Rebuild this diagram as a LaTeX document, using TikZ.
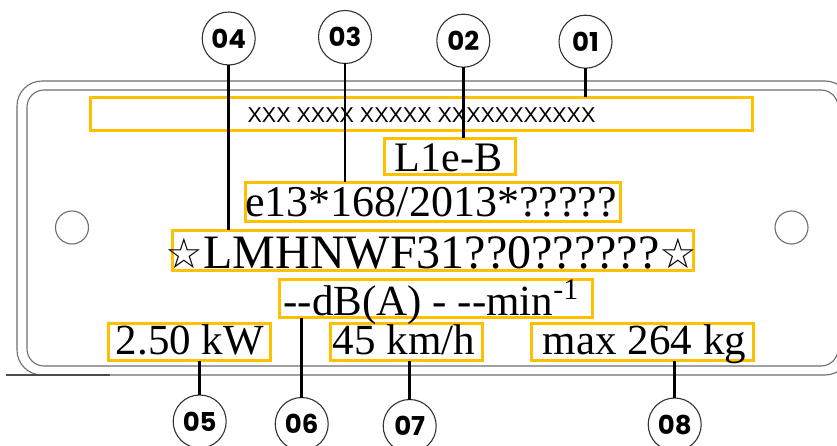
\documentclass[tikz,border=0pt]{standalone}
\usepackage{fontspec}
\setmainfont{Liberation Serif}
\newfontfamily\xsans{Liberation Sans}
\newfontfamily\numf{Poppins}
\newfontfamily\symf{DejaVu Sans}
\definecolor{plategray}{HTML}{6E6E6E}
\definecolor{boxyellow}{HTML}{FFC000}
\definecolor{ringgray}{HTML}{333333}
\tikzset{
  ybox/.style={draw=boxyellow, line width=2.8pt, rectangle, inner sep=0pt, outer sep=0pt},
  ptext/.style={anchor=base, inner sep=0pt, outer sep=0pt, font=\fontsize{43}{43}\selectfont},
  callout/.style={circle, draw=ringgray, line width=1.1pt, minimum size=53pt, inner sep=0pt, outer sep=0pt, fill=white,
     font=\numf\bfseries\fontsize{26}{26}\selectfont},
  leader/.style={line width=2.7pt, black},
  plate/.style={draw=plategray, line width=1.1pt}
}
\newcommand{\vstar}{{\symf\fontsize{42}{42}\selectfont ☆}}
\begin{document}
\begin{tikzpicture}[x=1pt,y=-1pt]
\useasboundingbox (0,0) rectangle (837,446);
\clip (0,0) rectangle (837,446);
\fill[white] (0,0) rectangle (837,446);
% plate
\draw[plate, rounded corners=25pt] (17,81) rectangle (850,375);
\draw[plate, rounded corners=17pt] (27,90) rectangle (838,366);
\draw[draw=black!70, line width=1.1pt] (6,375) -- (110,375);
% holes
\draw[plate] (72,227.5) circle (16.5);
\draw[plate] (791.5,227.5) circle (16.5);
% yellow boxes
\node[ybox, minimum width=662pt, minimum height=33pt] (b01) at (421.5,114) {};
\node[ybox, minimum width=131pt, minimum height=36pt] (b02) at (450,156.5) {};
\node[ybox, minimum width=375pt, minimum height=39pt] (b03) at (433,202) {};
\node[ybox, minimum width=521pt, minimum height=40pt] (b04) at (433,250.5) {};
\node[ybox, minimum width=313pt, minimum height=38pt] (b06) at (436,298.5) {};
\node[ybox, minimum width=162pt, minimum height=37pt] (b05) at (189.5,342) {};
\node[ybox, minimum width=152pt, minimum height=37pt] (b07) at (406.5,342) {};
\node[ybox, minimum width=222pt, minimum height=37pt] (b08) at (642.5,342) {};
% texts
\node[ptext, font=\xsans\fontsize{21.5}{21.5}\selectfont] (t01) at (421.5,122.7) {XXX XXXX XXXXX XXXXXXXXXXX};
\node[ptext, font=\fontsize{42}{42}\selectfont] (t02) at (448.5,171.7) {L1e-B};
\node[ptext, font=\fontsize{44}{44}\selectfont] (t03) at (431,216.7) {e13*168/2013*?????};
\node[ptext, font=\fontsize{48}{48}\selectfont] (t04) at (431.5,268) {\vstar LMHNWF31??0??????\vstar};
\node[ptext] (t06) at (431,315) {-{}-dB(A) - -{}-min\raisebox{16pt}{\fontsize{30}{30}\selectfont -1}};
\node[ptext] (t05) at (190,354) {2.50 kW};
\node[ptext] (t07) at (404,354) {45 km/h};
\node[ptext] (t08) at (644.5,354) {max 264 kg};
% callouts
\node[callout] (c04) at (228.7,38.5) {04};
\node[callout] (c03) at (345,37) {03};
\node[callout] (c02) at (463.3,40.7) {02};
\node[callout] (c01) at (585.5,41.7) {01};
\node[callout] (c05) at (199.7,421.5) {05};
\node[callout] (c06) at (301.7,424) {06};
\node[callout] (c07) at (409.7,426) {07};
\node[callout] (c08) at (674.7,424.5) {08};
% leaders
\draw[leader] (c04.south) -- (c04.south |- b04.north);
\draw[leader] (c03.south) -- (c03.south |- b03.north);
\draw[leader] (c02.south) -- (c02.south |- b02.north);
\draw[leader] (c01.south) -- (c01.south |- b01.north);
\draw[leader] (c05.north) -- (c05.north |- b05.south);
\draw[leader] (c06.north) -- (c06.north |- b06.south);
\draw[leader] (c07.north) -- (c07.north |- b07.south);
\draw[leader] (c08.north) -- (c08.north |- b08.south);
\end{tikzpicture}
\end{document}
